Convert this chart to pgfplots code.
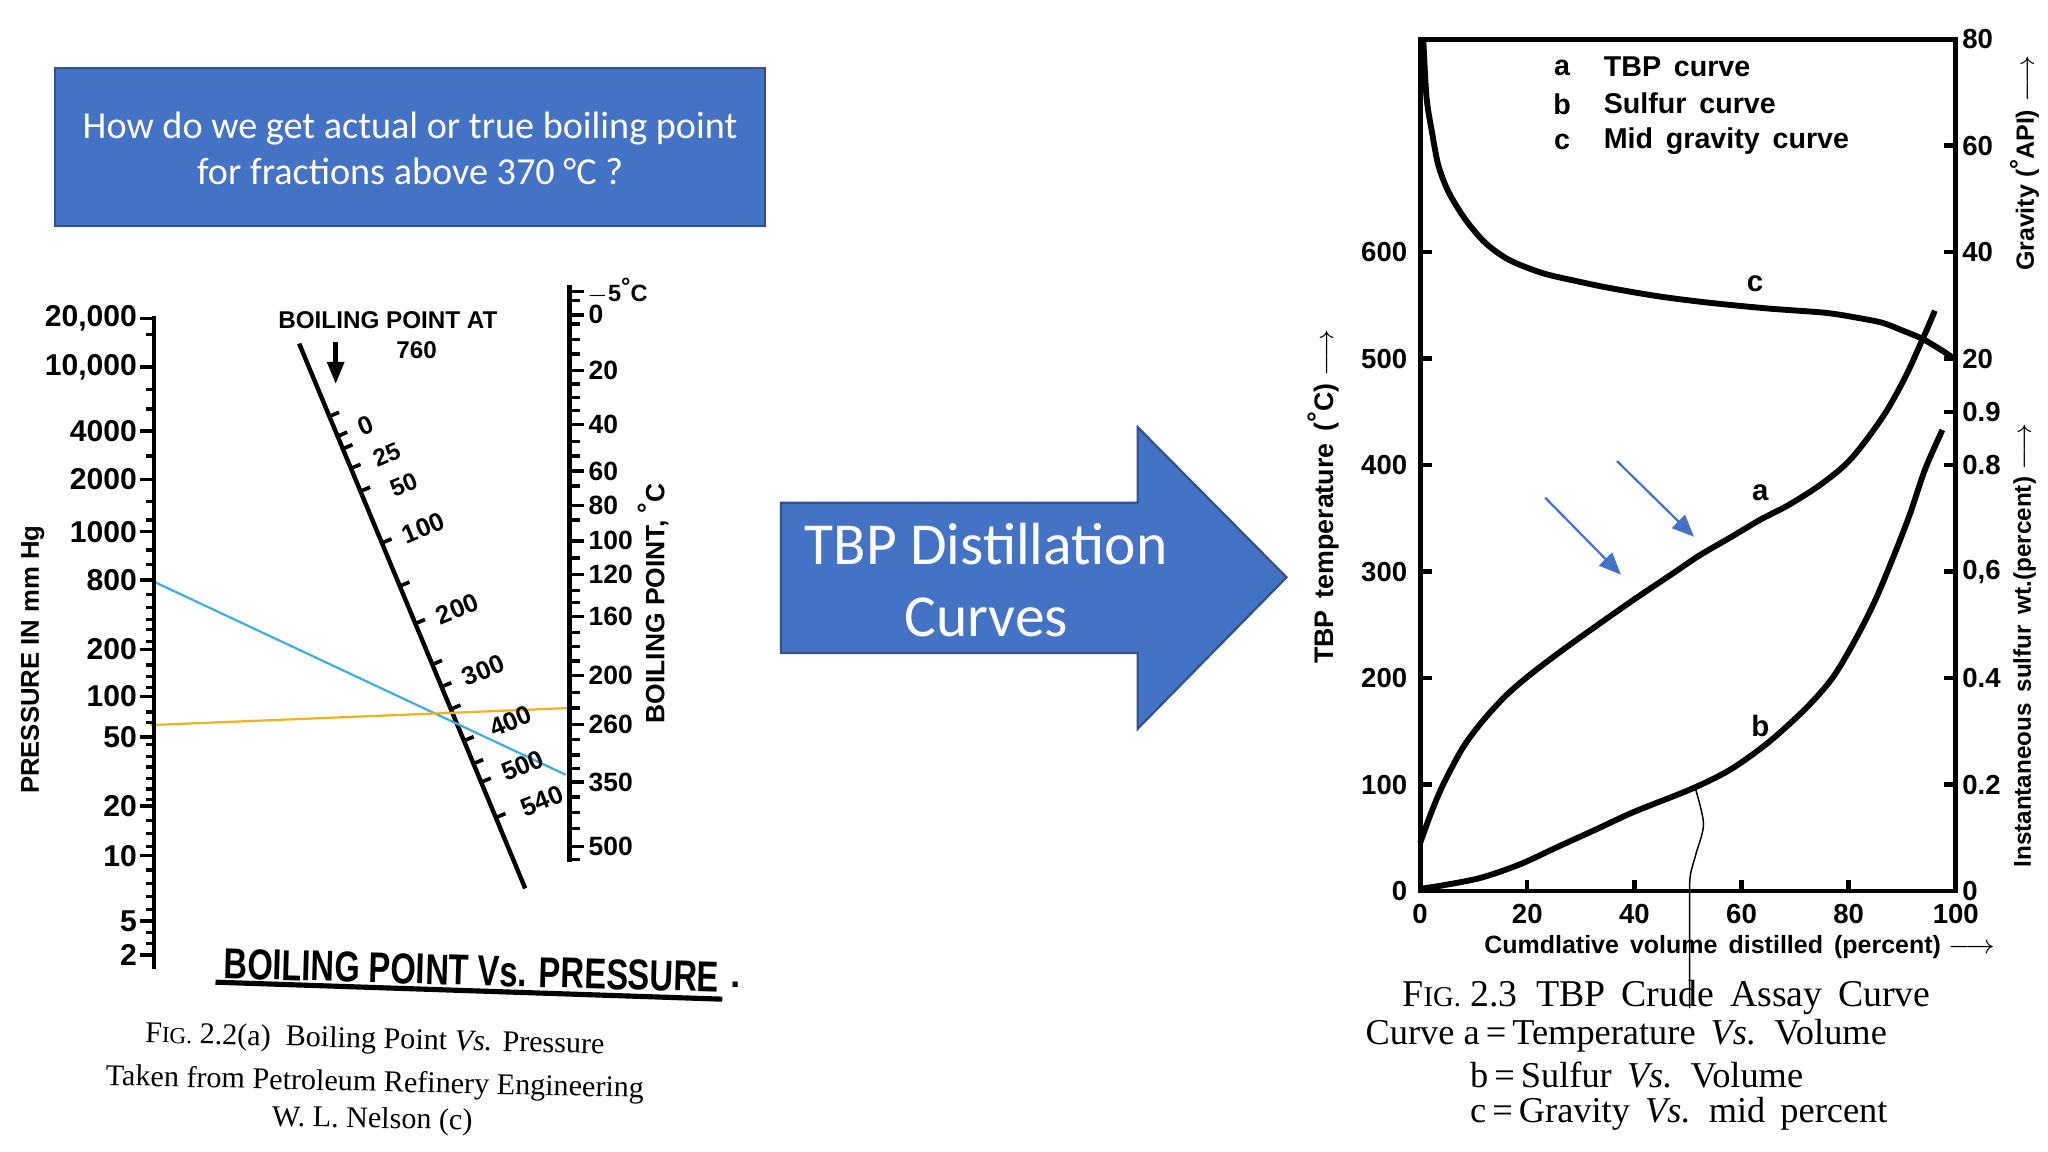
\documentclass[border=0pt]{standalone}
\usepackage{graphicx}
\usepackage{pgfplots}
\pgfplotsset{compat=1.18}
\usepackage{fontspec}
\setmainfont{Liberation Serif}
\newfontfamily\sansb{Liberation Sans}
\newfontfamily\calfont{Carlito}
\usetikzlibrary{arrows.meta}
\definecolor{boxblue}{HTML}{4472C4}
\definecolor{boxedge}{HTML}{2F528F}
\definecolor{cyanline}{HTML}{3AAFE0}
\definecolor{orangeline}{HTML}{F2B21C}
\newcommand{\nf}[1]{\sansb\bfseries\fontsize{#1}{#1}\selectfont}
\begin{document}
\begin{tikzpicture}[x=0.0125cm,y=-0.0125cm]
\path[use as bounding box, fill=white] (0,0) rectangle (1568,882);

% ---------- question box ----------
\fill[boxblue, draw=boxedge, line width=0.6pt] (42,52) rectangle (586,173);
\node[text=white, align=center, font=\calfont\fontsize{10.4}{12.5}\selectfont] at (314,113.5)
  {How do we get actual or true boiling point\\for fractions above 370 °C ?};

% ---------- block arrow ----------
\fill[boxblue, draw=boxedge, line width=0.6pt] (598,385) -- (871,385) -- (871,327) -- (985,442)
  -- (871,558) -- (871,500) -- (598,500) -- cycle;
\node[text=white, align=center, font=\calfont\fontsize{16.2}{19.6}\selectfont] at (755,444)
  {TBP Distillation\\Curves};

% ---------- nomograph: middle line and key lines ----------
\begin{axis}[at={(0cm,0cm)}, anchor=north west, width=19.6cm, height=11.025cm, scale only axis,
  xmin=0, xmax=1568, ymin=0, ymax=882, y dir=reverse, hide axis, clip=false,
  unbounded coords=jump]
\addplot[black, line width=1.2pt] coordinates {(229,263) (402,680)};
\addplot[black, line width=1pt] coordinates {
 (252.1,318.7)(259.5,315.6) (0,nan)
 (258.4,333.9)(265.8,330.8) (0,nan)
 (262.4,343.5)(269.8,340.4) (0,nan)
 (268.6,358.5)(276.0,355.4) (0,nan)
 (275.9,376.0)(283.3,372.9) (0,nan)
 (292.3,415.6)(299.7,412.5) (0,nan)
 (306.0,448.6)(313.4,445.5) (0,nan)
 (317.9,477.3)(325.3,474.2) (0,nan)
 (330.9,508.6)(338.3,505.5) (0,nan)
 (338.0,525.7)(345.4,522.6) (0,nan)
 (345.1,542.8)(352.5,539.7) (0,nan)
 (355.1,567.0)(362.5,563.9) (0,nan)
 (362.4,584.5)(369.8,581.4) (0,nan)
 (368.3,598.7)(375.7,595.6) (0,nan)
 (379.5,625.8)(386.9,622.7)};
\addplot[cyanline, line width=0.6pt] coordinates {(113,443) (433,593)};
\addplot[orangeline, line width=0.6pt] coordinates {(115,555) (434,542)};
\tikzset{ml/.style={rotate=22.5, font=\nf{7}, inner sep=0.5pt}}
\node[ml] at (axis cs:280,326) {0};
\node[ml, font=\nf{6.6}] at (axis cs:296,348) {25};
\node[ml, font=\nf{6.6}] at (axis cs:309,371) {50};
\node[ml] at (axis cs:324,404) {100};
\node[ml] at (axis cs:350,466) {200};
\node[ml] at (axis cs:370,513) {300};
\node[ml] at (axis cs:391,552) {400};
\node[ml] at (axis cs:400,586) {500};
\node[ml] at (axis cs:415,613) {540};
\end{axis}

% ---------- nomograph: pressure scale ----------
\begin{axis}[at={(1.475cm,-3.025cm)}, anchor=north west, width=1cm, height=6.25cm, scale only axis,
  xmin=0, xmax=1, ymin=242, ymax=742, y dir=reverse,
  axis y line=left, axis x line=none, axis line style={-, line width=1.2pt},
  tick align=outside, ytick pos=left, major tick length=0.14cm, minor tick length=0.08cm,
  tick style={line width=0.9pt, black},
  ytick={244,281,330,367,407,444,497,533,564,617,655,705,731},
  yticklabels={{20,000},{10,000},4000,2000,1000,800,200,100,50,20,10,5,2},
  minor ytick={256,298,313,349,384,398,421,432,455,465,474,482,491,509,518,526,545,553,570,579,587,596,604,612,628,638,648,666,676,686,696,714,722},
  yticklabel style={font=\nf{8.2}, inner sep=0.5pt}]
\addplot[draw=none] coordinates {(0,300)};
\end{axis}

% ---------- nomograph: boiling point scale ----------
\begin{axis}[at={(5.45cm,-2.725cm)}, anchor=north east, width=1cm, height=5.525cm, scale only axis,
  xmin=0, xmax=1, ymin=218, ymax=660, y dir=reverse,
  axis y line=right, axis x line=none, axis line style={-, line width=1.2pt},
  tick align=outside, ytick pos=right, major tick length=0.14cm, minor tick length=0.1cm,
  tick style={line width=0.9pt, black},
  ytick={241,283.5,325,360.5,387,414,440,472,517,554.5,598.5,648},
  yticklabels={0,20,40,60,80,100,120,160,200,260,350,500},
  extra y ticks={223}, extra y tick labels={{$-$5\raisebox{0.5ex}{°}C}},
  extra y tick style={yticklabel style={font=\nf{6.4}, inner sep=0.5pt}},
  minor ytick={230,248,260,271,294,304,314,338,349,372,398,427,452,461,484,495,506,530,542,566,578,588,610,622,634,658},
  yticklabel style={font=\nf{7.2}, inner sep=1pt}]
\addplot[draw=none] coordinates {(0,300)};
\end{axis}

% nomograph texts
\node[rotate=90, font=\nf{7}] at (25,505) {PRESSURE IN mm Hg};
\node[rotate=90, font=\nf{7.2}] at (500,462) {BOILING POINT, \raisebox{0.6ex}{°}C};
\node[font=\nf{6.6}] at (297,245) {BOILING POINT AT};
\node[font=\nf{6.6}] at (319,268) {760};
\draw[line width=1.2pt, -{Triangle[length=6pt,width=4.5pt]}] (257,262) -- (257,294);
\node[rotate=-1.6, font=\sansb\bfseries\fontsize{8.9}{11}\selectfont] at (361,743) {\scalebox{1}[1.32]{BOILING POINT Vs. PRESSURE}};
\node[font=\sansb\bfseries\fontsize{10}{11}\selectfont] at (563,754) {.};
\draw[line width=1.4pt] (165,752) -- (553,765);
\node[rotate=-1.4, font=\fontsize{8.2}{10}\selectfont, inner sep=0pt] at (287,797)
  {F{\fontsize{6.3}{7}\selectfont IG.} 2.2(a)\enspace Boiling Point \textit{Vs.} Pressure};
\node[rotate=-1.3, font=\fontsize{8.2}{10}\selectfont, inner sep=0pt] at (287,830)
  {Taken from Petroleum Refinery Engineering};
\node[rotate=-1.0, font=\fontsize{8.2}{10}\selectfont, inner sep=0pt] at (285,858) {W. L. Nelson (c)};

% ---------- TBP crude assay chart ----------
\pgfplotsset{tbp/.style={at={(13.5875cm,-0.375cm)}, anchor=north west, width=5.125cm, height=8.15cm,
  scale only axis, xmin=0, xmax=100, tick align=inside, tick style={line width=1.2pt, black},
  major tick length=0.11cm, ticklabel style={font=\nf{7.5}}}}
\begin{axis}[tbp, ymin=0, ymax=800, axis line style={line width=1.3pt},
  xtick={0,20,40,60,80,100}, xticklabels={0,20,40,60,80,100}, xtick pos=bottom,
  ytick={0,100,200,300,400,500,600}, yticklabels={0,100,200,300,400,500,600}, ytick pos=left,
  clip=false]
\addplot[black, line width=1.6pt, smooth] coordinates {
 (0,45)(2.1,74)(4.3,100)(7.9,134)(11.4,158)(15.7,182)(20,201)(25.7,223)(32.9,249)(40,274)
 (47.1,298)(52.1,315)(57.9,332)(63.6,349)(68.6,362)(74.3,380)(79.3,400)(82.9,421)(87.1,451)
 (90.7,484)(93.6,516)(95,532)(96.1,545)};
\addplot[black, line width=0.4pt, smooth] coordinates {(51.4,96)(52.9,63)(51.5,35)(50.4,13)(50.3,-20)(50.3,-110)};
\node[font=\nf{8}] at (axis cs:63.5,374) {a};
\node[font=\nf{8}] at (axis cs:63.5,155) {b};
\node[font=\nf{8}] at (axis cs:62.5,570) {c};
\end{axis}
\begin{axis}[tbp, ymin=0, ymax=1.6, axis x line=none, axis y line*=right,
  axis line style={-, line width=1.3pt},
  ytick={0,0.2,0.4,0.6,0.8,0.9}, yticklabels={0,0.2,0.4,{0,6},0.8,0.9},
  yticklabel style={inner sep=1.6pt}]
\addplot[black, line width=1.6pt, smooth] coordinates {
 (0,0.004)(5,0.012)(11.4,0.025)(18.6,0.05)(25.7,0.083)(32.9,0.116)(40,0.149)(50.7,0.192)
 (57.9,0.228)(65,0.279)(72.1,0.344)(77.1,0.402)(81.4,0.475)(85,0.547)(88.6,0.634)(91.4,0.707)
 (94.3,0.793)(97.5,0.866)};
\end{axis}
\begin{axis}[tbp, ymin=-80, ymax=80, axis x line=none, axis y line*=right,
  axis line style={-, line width=1.3pt},
  ytick={20,40,60,80}, yticklabels={20,40,60,80},
  yticklabel style={inner sep=1.6pt}]
\addplot[black, line width=1.6pt, smooth] coordinates {
 (0.6,79.7)(1.2,69)(2.2,62.6)(3.4,56.3)(5.3,51.3)(8.4,46.2)(12.1,41.8)(16.5,38.6)(22.7,36.1)
 (29,34.6)(35.2,33.3)(44.5,31.7)(53.9,30.5)(65.1,29.4)(75.7,28.6)(82,27.6)(86.4,26.7)(90,25.3)
 (93.6,23.8)(97,21.8)(100,19.8)};
\end{axis}

% chart legend and labels
\node[font=\nf{7.8}] at (1196,52) {a};
\node[font=\nf{7.8}] at (1196,80) {b};
\node[font=\nf{7.8}] at (1196,109) {c};
\node[anchor=west, font=\nf{7.8}] at (1218,51) {TBP\, curve};
\node[anchor=west, font=\nf{7.8}] at (1218,79) {Sulfur\, curve};
\node[anchor=west, font=\nf{7.8}] at (1218,108) {Mid\, gravity\, curve};
\node[rotate=90, font=\nf{7.3}] at (1013,380) {TBP\, temperature\, (\raisebox{0.5ex}{°}C) $\longrightarrow$};
\node[font=\nf{6.8}] at (1332,725) {Cumdlative\, volume\, distilled\, (percent) $\longrightarrow$};
\node[rotate=90, font=\nf{6.8}] at (1550,125) {Gravity (\raisebox{0.5ex}{°}API) $\longrightarrow$};
\node[rotate=90, font=\nf{6.6}] at (1550,494) {Instantaneous\, sulfur\, wt.(percent) $\longrightarrow$};
\draw[boxblue, line width=0.6pt, -{Triangle[length=6pt,width=5pt]}] (1183,381) -- (1241,440);
\draw[boxblue, line width=0.6pt, -{Triangle[length=6pt,width=5pt]}] (1238,353) -- (1297,411);

% chart caption
\node[font=\fontsize{10.3}{12}\selectfont] at (1276,764)
  {F{\fontsize{7.8}{9}\selectfont IG.} 2.3\enspace TBP\, Crude\, Assay\, Curve};
\node[anchor=west, inner sep=0pt, font=\fontsize{9.9}{12}\selectfont] at (1045,793)
  {Curve a\,=\,Temperature\, \textit{Vs.}\, Volume};
\node[anchor=west, inner sep=0pt, font=\fontsize{9.9}{12}\selectfont] at (1125,823)
  {b\,=\,Sulfur\, \textit{Vs.}\, Volume};
\node[anchor=west, inner sep=0pt, font=\fontsize{9.9}{12}\selectfont] at (1125,853)
  {c\,=\,Gravity\, \textit{Vs.}\, mid\, percent};
\end{tikzpicture}
\end{document}
